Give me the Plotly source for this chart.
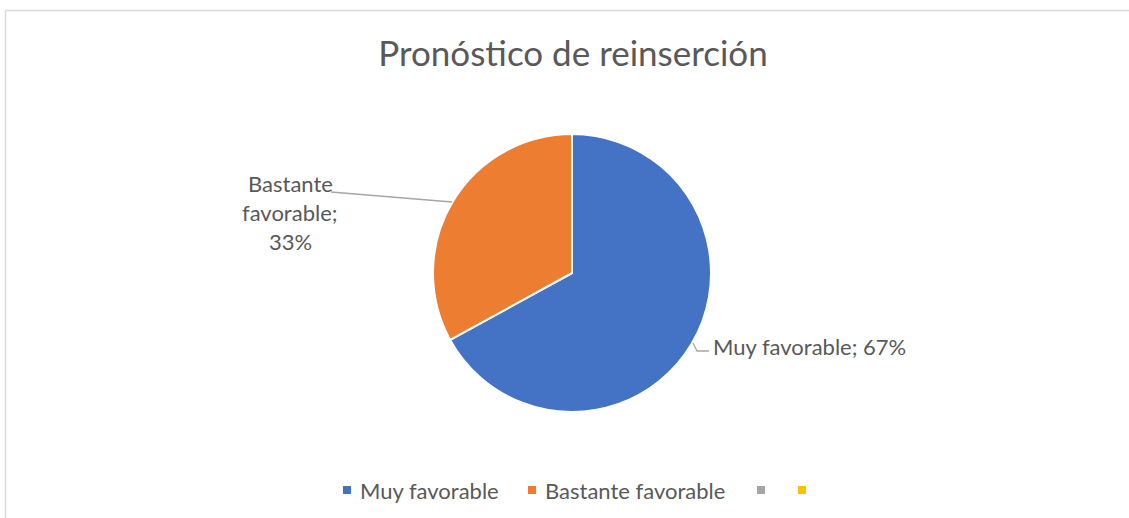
import plotly.graph_objects as go

# ---- data ----
categories = ["Muy favorable", "Bastante favorable", " ", "  "]
values = [67, 33, 0, 0]
colors = ["#4472C4", "#ED7D31", "#A5A5A5", "#FFC000"]
title_text = "Pronóstico de reinserción"

W, H = 1129, 518
FONT = "Lato"
TXT = "#595959"

def px(x):
    return x / W

def py(y):
    return 1 - y / H

total = sum(values)
pcts = [round(100 * v / total) for v in values]

fig = go.Figure()
fig.add_trace(go.Pie(
    labels=categories,
    values=values,
    marker=dict(colors=colors, line=dict(color="white", width=2)),
    sort=False,
    direction="clockwise",
    rotation=0,
    textinfo="none",
    hoverinfo="label+percent",
    showlegend=False,
    domain=dict(x=[px(433), px(711)], y=[py(412), py(134)]),
))

annotations = []
shapes = []

# chart border (left and top visible)
shapes.append(dict(type="line", xref="paper", yref="paper", x0=px(5.5), x1=px(1135), y0=py(10.5), y1=py(10.5),
                   line=dict(color="#D9D9D9", width=1.5)))
shapes.append(dict(type="line", xref="paper", yref="paper", x0=px(5.5), x1=px(5.5), y0=py(10.5), y1=py(525),
                   line=dict(color="#D9D9D9", width=1.5)))

# data labels
lbl_size = 22
# Muy favorable
annotations.append(dict(xref="paper", yref="paper", x=px(711), y=py(346), xanchor="left", yanchor="middle",
                        text=f"{categories[0]}; {pcts[0]}%", showarrow=False,
                        font=dict(family=FONT, size=lbl_size, color=TXT)))
shapes.append(dict(type="path", xref="paper", yref="paper",
                   path=f"M {px(693)} {py(343)} L {px(697)} {py(351)} L {px(709)} {py(351)}",
                   line=dict(color="#A6A6A6", width=1.3)))
# Bastante favorable
lines = categories[1].split(" ")
lines = [lines[0], lines[1] + ";", f"{pcts[1]}%"]
for i, t in enumerate(lines):
    annotations.append(dict(xref="paper", yref="paper", x=px(290), y=py(184 + 28.5 * i), xanchor="center",
                            yanchor="middle", text=t, showarrow=False,
                            font=dict(family=FONT, size=lbl_size, color=TXT)))
shapes.append(dict(type="line", xref="paper", yref="paper", x0=px(331), y0=py(192), x1=px(452), y1=py(202),
                   line=dict(color="#A6A6A6", width=1.3)))

# legend (manual)
leg_x = [343, 528, 757, 798]
leg_y = 490
for c, col, x0 in zip(categories, colors, leg_x):
    shapes.append(dict(type="rect", xref="paper", yref="paper", x0=px(x0), x1=px(x0 + 8),
                       y0=py(leg_y - 4), y1=py(leg_y + 4), fillcolor=col, line=dict(width=0)))
    if c.strip():
        annotations.append(dict(xref="paper", yref="paper", x=px(x0 + 15), y=py(leg_y), xanchor="left",
                                yanchor="middle", text=c, showarrow=False,
                                font=dict(family=FONT, size=lbl_size, color=TXT)))

fig.update_layout(
    width=W, height=H, autosize=False,
    margin=dict(l=0, r=0, t=0, b=0),
    paper_bgcolor="white", plot_bgcolor="white",
    title=dict(text=title_text, x=573 / W, xanchor="center", y=1 - 54 / H, yanchor="middle",
               yref="container", font=dict(family=FONT, size=35, color=TXT)),
    annotations=annotations,
    shapes=shapes,
)

fig.write_html("out.html", config={"displayModeBar": False},
               post_script="document.body.style.margin='0';document.body.style.overflow='hidden';")
